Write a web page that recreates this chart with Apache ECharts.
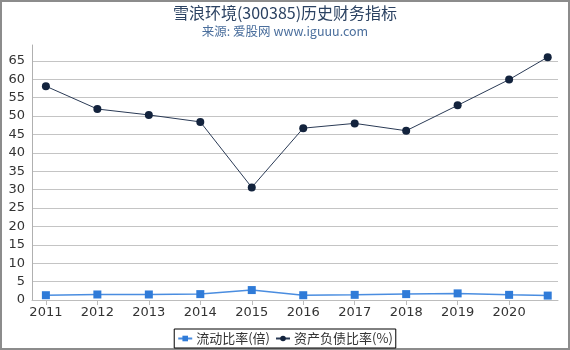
<!DOCTYPE html>
<html><head><meta charset="utf-8">
<script src="https://cdn.jsdelivr.net/npm/echarts@6/dist/echarts.min.js"></script>
<style>html,body{margin:0;padding:0;background:#fff}#c{width:570px;height:350px}</style>
</head><body><div id="c"></div>
<script>
var titleText = '雪浪环境(300385)历史财务指标';
var subText = '来源: 爱股网 www.iguuu.com';
var periods = [2011, 2012, 2013, 2014, 2015, 2016, 2017, 2018, 2019, 2020, 2020.75];
var tickYears = [2011, 2012, 2013, 2014, 2015, 2016, 2017, 2018, 2019, 2020];
var currentRatio = [1.3, 1.5, 1.5, 1.6, 2.7, 1.3, 1.4, 1.6, 1.8, 1.4, 1.2];
var debtRatio = [58.1, 51.9, 50.3, 48.4, 30.6, 46.7, 48.0, 46.0, 52.9, 59.9, 66.0];
var seriesNames = ['流动比率(倍)', '资产负债比率(%)'];

function pairs(xs, ys){ return xs.map(function(x,i){ return [x, ys[i]]; }); }

var chart = echarts.init(document.getElementById('c'));
chart.setOption({
  animation: false,
  title: {
    text: titleText, subtext: subText, left: 'center', top: 0,
    itemGap: 4,
    textStyle: {fontSize: 16, fontWeight: 'normal', color: '#2b4262', fontFamily: 'Noto Sans CJK SC'},
    subtextStyle: {fontSize: 12.5, color: '#4a6e9c', fontFamily: 'Noto Sans CJK SC'}
  },
  graphic: [{type: 'rect', shape: {x: 1, y: 1, width: 568, height: 348}, style: {fill: 'none', stroke: '#8c8c8c', lineWidth: 2}, silent: true}],
  legend: {
    bottom: 2, left: 'center', itemWidth: 14, itemHeight: 7, itemGap: 5,
    padding: [3, 3], borderColor: '#000', borderWidth: 1,
    textStyle: {fontSize: 13, color: '#333', fontFamily: 'Noto Sans CJK SC', padding: [0, 0, 0, -1]},
    data: seriesNames
  },
  grid: {left: 32, right: 12, top: 45, bottom: 50, containLabel: false},
  xAxis: {
    type: 'value', min: 2010.73, max: 2020.95,
    axisLine: {show: true, lineStyle: {color: '#bdbdbd'}},
    axisTick: {show: true, customValues: tickYears, length: 5, lineStyle: {color: '#bdbdbd'}},
    axisLabel: {customValues: tickYears, fontSize: 13, color: '#333', margin: 6, fontFamily: 'DejaVu Sans',
      formatter: function(v){ return String(Math.round(v)); }},
    splitLine: {show: false}
  },
  yAxis: {
    type: 'value', min: 0, max: 69.3, interval: 5,
    axisLine: {show: true, lineStyle: {color: '#b0b0b0'}},
    axisTick: {show: false},
    axisLabel: {fontSize: 13, color: '#333', margin: 7, showMaxLabel: false, fontFamily: 'DejaVu Sans'},
    splitLine: {show: true, showMaxLine: false, lineStyle: {color: '#c4c4c4'}}
  },
  series: [
    {name: seriesNames[0], type: 'line', data: pairs(periods, currentRatio),
      symbol: 'rect', symbolSize: 8,
      itemStyle: {color: '#2f7bd8'},
      lineStyle: {color: '#4a8de0', width: 1.5}},
    {name: seriesNames[1], type: 'line', data: pairs(periods, debtRatio),
      symbol: 'circle', symbolSize: 8,
      itemStyle: {color: '#13233d'},
      lineStyle: {color: '#2a3a55', width: 1}}
  ]
});
</script></body></html>
